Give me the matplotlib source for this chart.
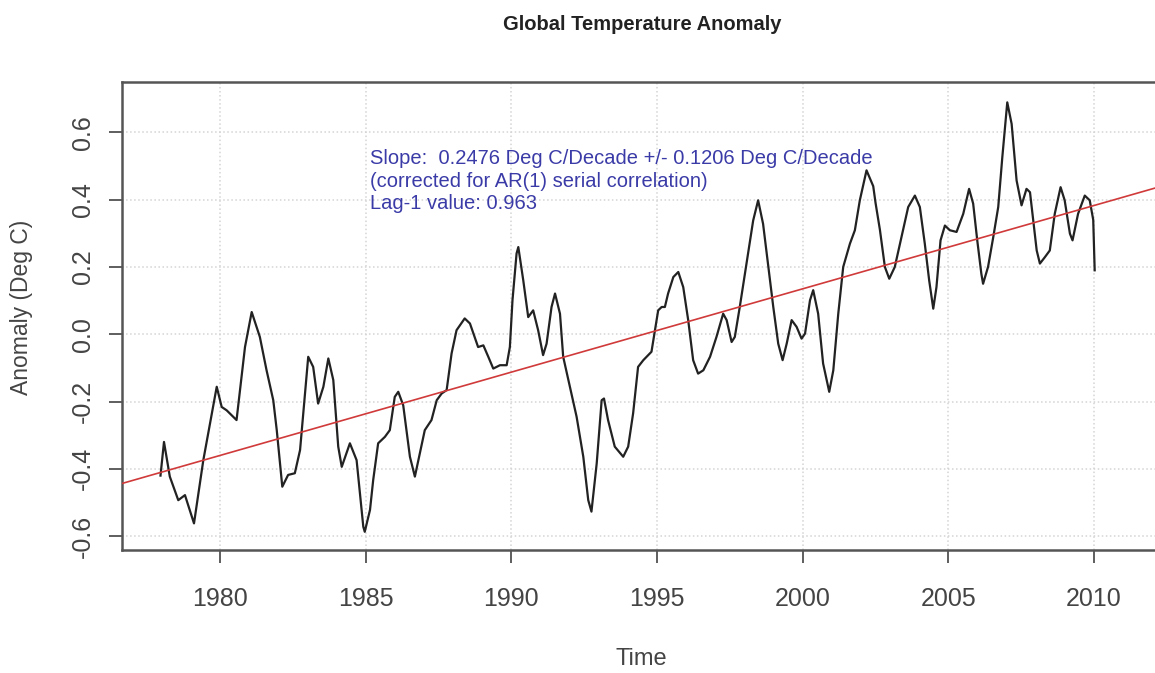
"""Global temperature anomaly with linear trend (R base-graphics look)."""
import matplotlib
matplotlib.use("Agg")
import matplotlib.pyplot as plt

# (decimal year, deg C)
years = [
    1977.96, 1978.08, 1978.28, 1978.57, 1978.80, 1979.11, 1979.43, 1979.89,
    1980.06, 1980.23, 1980.57, 1980.86, 1981.09, 1981.37, 1981.60, 1981.83,
    1981.95, 1982.14, 1982.34, 1982.57, 1982.75, 1983.03, 1983.20, 1983.37,
    1983.55, 1983.72, 1983.89, 1984.06, 1984.18, 1984.46, 1984.69, 1984.92,
    1984.97, 1985.15, 1985.26, 1985.43, 1985.66, 1985.83, 1986.00, 1986.12,
    1986.29, 1986.52, 1986.69, 1986.86, 1987.03, 1987.26, 1987.44, 1987.61,
    1987.78, 1987.95, 1988.12, 1988.40, 1988.58, 1988.86, 1989.04, 1989.21,
    1989.38, 1989.61, 1989.84, 1989.95, 1990.04, 1990.18, 1990.24, 1990.41,
    1990.58, 1990.75, 1990.92, 1991.09, 1991.21, 1991.38, 1991.50, 1991.67,
    1991.78, 1992.01, 1992.24, 1992.47, 1992.64, 1992.75, 1992.93, 1993.10,
    1993.18, 1993.32, 1993.55, 1993.84, 1994.01, 1994.18, 1994.35, 1994.53,
    1994.81, 1994.93, 1995.04, 1995.16, 1995.27, 1995.38, 1995.56, 1995.73,
    1995.90, 1996.07, 1996.24, 1996.41, 1996.59, 1996.82, 1997.04, 1997.27,
    1997.39, 1997.56, 1997.67, 1997.84, 1998.07, 1998.30, 1998.47, 1998.64,
    1998.82, 1998.99, 1999.16, 1999.31, 1999.45, 1999.62, 1999.79, 1999.96,
    2000.08, 2000.25, 2000.36, 2000.53, 2000.70, 2000.91, 2001.05, 2001.22,
    2001.39, 2001.62, 2001.79, 2001.96, 2002.19, 2002.42, 2002.50, 2002.65,
    2002.82, 2002.97, 2003.16, 2003.39, 2003.62, 2003.85, 2004.02, 2004.19,
    2004.34, 2004.48, 2004.59, 2004.73, 2004.88, 2005.05, 2005.28, 2005.51,
    2005.71, 2005.85, 2005.99, 2006.13, 2006.19, 2006.36, 2006.54, 2006.71,
    2006.85, 2007.02, 2007.17, 2007.34, 2007.51, 2007.68, 2007.80, 2007.91,
    2008.03, 2008.14, 2008.31, 2008.48, 2008.65, 2008.85, 2008.99, 2009.17,
    2009.26, 2009.45, 2009.68, 2009.85, 2009.97, 2010.00, 2010.02,
]
anomaly = [
    -0.420, -0.320, -0.423, -0.493, -0.478, -0.562, -0.374, -0.156,
    -0.216, -0.226, -0.255, -0.038, 0.066, -0.008, -0.107, -0.196,
    -0.285, -0.453, -0.418, -0.413, -0.344, -0.067, -0.097, -0.206,
    -0.156, -0.072, -0.136, -0.334, -0.394, -0.324, -0.374, -0.572,
    -0.587, -0.522, -0.433, -0.324, -0.305, -0.285, -0.186, -0.171,
    -0.211, -0.364, -0.423, -0.354, -0.285, -0.255, -0.196, -0.176,
    -0.166, -0.057, 0.012, 0.047, 0.032, -0.038, -0.033, -0.067,
    -0.102, -0.092, -0.092, -0.038, 0.101, 0.240, 0.259, 0.160,
    0.051, 0.071, 0.012, -0.062, -0.028, 0.081, 0.121, 0.061,
    -0.067, -0.156, -0.245, -0.364, -0.493, -0.527, -0.384, -0.196,
    -0.191, -0.255, -0.334, -0.364, -0.334, -0.235, -0.097, -0.077,
    -0.052, 0.012, 0.071, 0.081, 0.081, 0.121, 0.170, 0.185,
    0.140, 0.042, -0.077, -0.117, -0.107, -0.067, -0.008, 0.061,
    0.042, -0.023, -0.008, 0.081, 0.210, 0.338, 0.398, 0.328,
    0.200, 0.081, -0.028, -0.077, -0.028, 0.042, 0.022, -0.013,
    0.002, 0.101, 0.131, 0.061, -0.087, -0.171, -0.107, 0.061,
    0.200, 0.269, 0.309, 0.398, 0.487, 0.440, 0.390, 0.310,
    0.200, 0.165, 0.200, 0.289, 0.378, 0.412, 0.378, 0.269,
    0.160, 0.076, 0.140, 0.279, 0.323, 0.309, 0.304, 0.358,
    0.432, 0.388, 0.279, 0.180, 0.150, 0.200, 0.289, 0.378,
    0.526, 0.689, 0.625, 0.457, 0.383, 0.432, 0.422, 0.338,
    0.249, 0.210, 0.229, 0.249, 0.358, 0.437, 0.398, 0.299,
    0.279, 0.358, 0.412, 0.398, 0.340, 0.250, 0.190,
]

# OLS trend: anomaly = intercept + slope * year
trend_slope = 0.02476
trend_intercept = -49.385

x_ticks = [1980, 1985, 1990, 1995, 2000, 2005, 2010]
y_ticks = [-0.6, -0.4, -0.2, 0.0, 0.2, 0.4, 0.6]
y_ticklabels = ["-0.6", "-0.4", "-0.2", "0.0", "0.2", "0.4", "0.6"]

note_lines = [
    "Slope:  0.2476 Deg C/Decade +/- 0.1206 Deg C/Decade",
    "(corrected for AR(1) serial correlation)",
    "Lag-1 value: 0.963",
]

plt.rcParams["font.family"] = ["Liberation Sans", "DejaVu Sans"]

fig = plt.figure(figsize=(11.55, 6.73), dpi=100)
ax = fig.add_axes([0.1054, 0.1828, 0.8946, 0.6961])

xlim = (1976.63, 2012.09)
ax.set_xlim(*xlim)
ax.set_ylim(-0.641, 0.751)

ax.grid(True, color="#d4d4d4", linestyle=":", linewidth=1.1)
ax.set_axisbelow(True)

ax.plot(years, anomaly, color="#222222", linewidth=1.6, zorder=3)
ax.plot(xlim, [trend_intercept + trend_slope * x for x in xlim],
        color="#d03a3a", linewidth=1.2, zorder=4)

# three-line note, R text() style
for i, line in enumerate(note_lines):
    ax.text(1985.15, 0.505 - i * 0.066, line, color="#3b3ba8",
            fontsize=14.5, va="baseline", ha="left", zorder=5)

ax.set_xticks(x_ticks)
ax.set_yticks(y_ticks)
ax.set_yticklabels(y_ticklabels, rotation=90, va="center")
ax.tick_params(axis="both", direction="out", length=9.5, width=1.1,
               color="#333333", labelcolor="#444444", labelsize=18)
ax.tick_params(axis="x", pad=17)
ax.tick_params(axis="y", pad=10)

for side in ("left", "bottom", "top"):
    ax.spines[side].set_color("#555555")
    ax.spines[side].set_linewidth(1.8)
ax.spines["right"].set_visible(False)

fig.text(0.556, 0.964, "Global Temperature Anomaly", ha="center", va="center",
         fontsize=14.5, fontweight="bold", color="#222222")
fig.text(0.019, 0.544, "Anomaly (Deg C)", rotation=90, ha="center",
         va="center", fontsize=16.5, color="#444444")
fig.text(0.555, 0.021, "Time", ha="center", va="center", fontsize=17,
         color="#444444")

fig.savefig("out.png", dpi=100)
